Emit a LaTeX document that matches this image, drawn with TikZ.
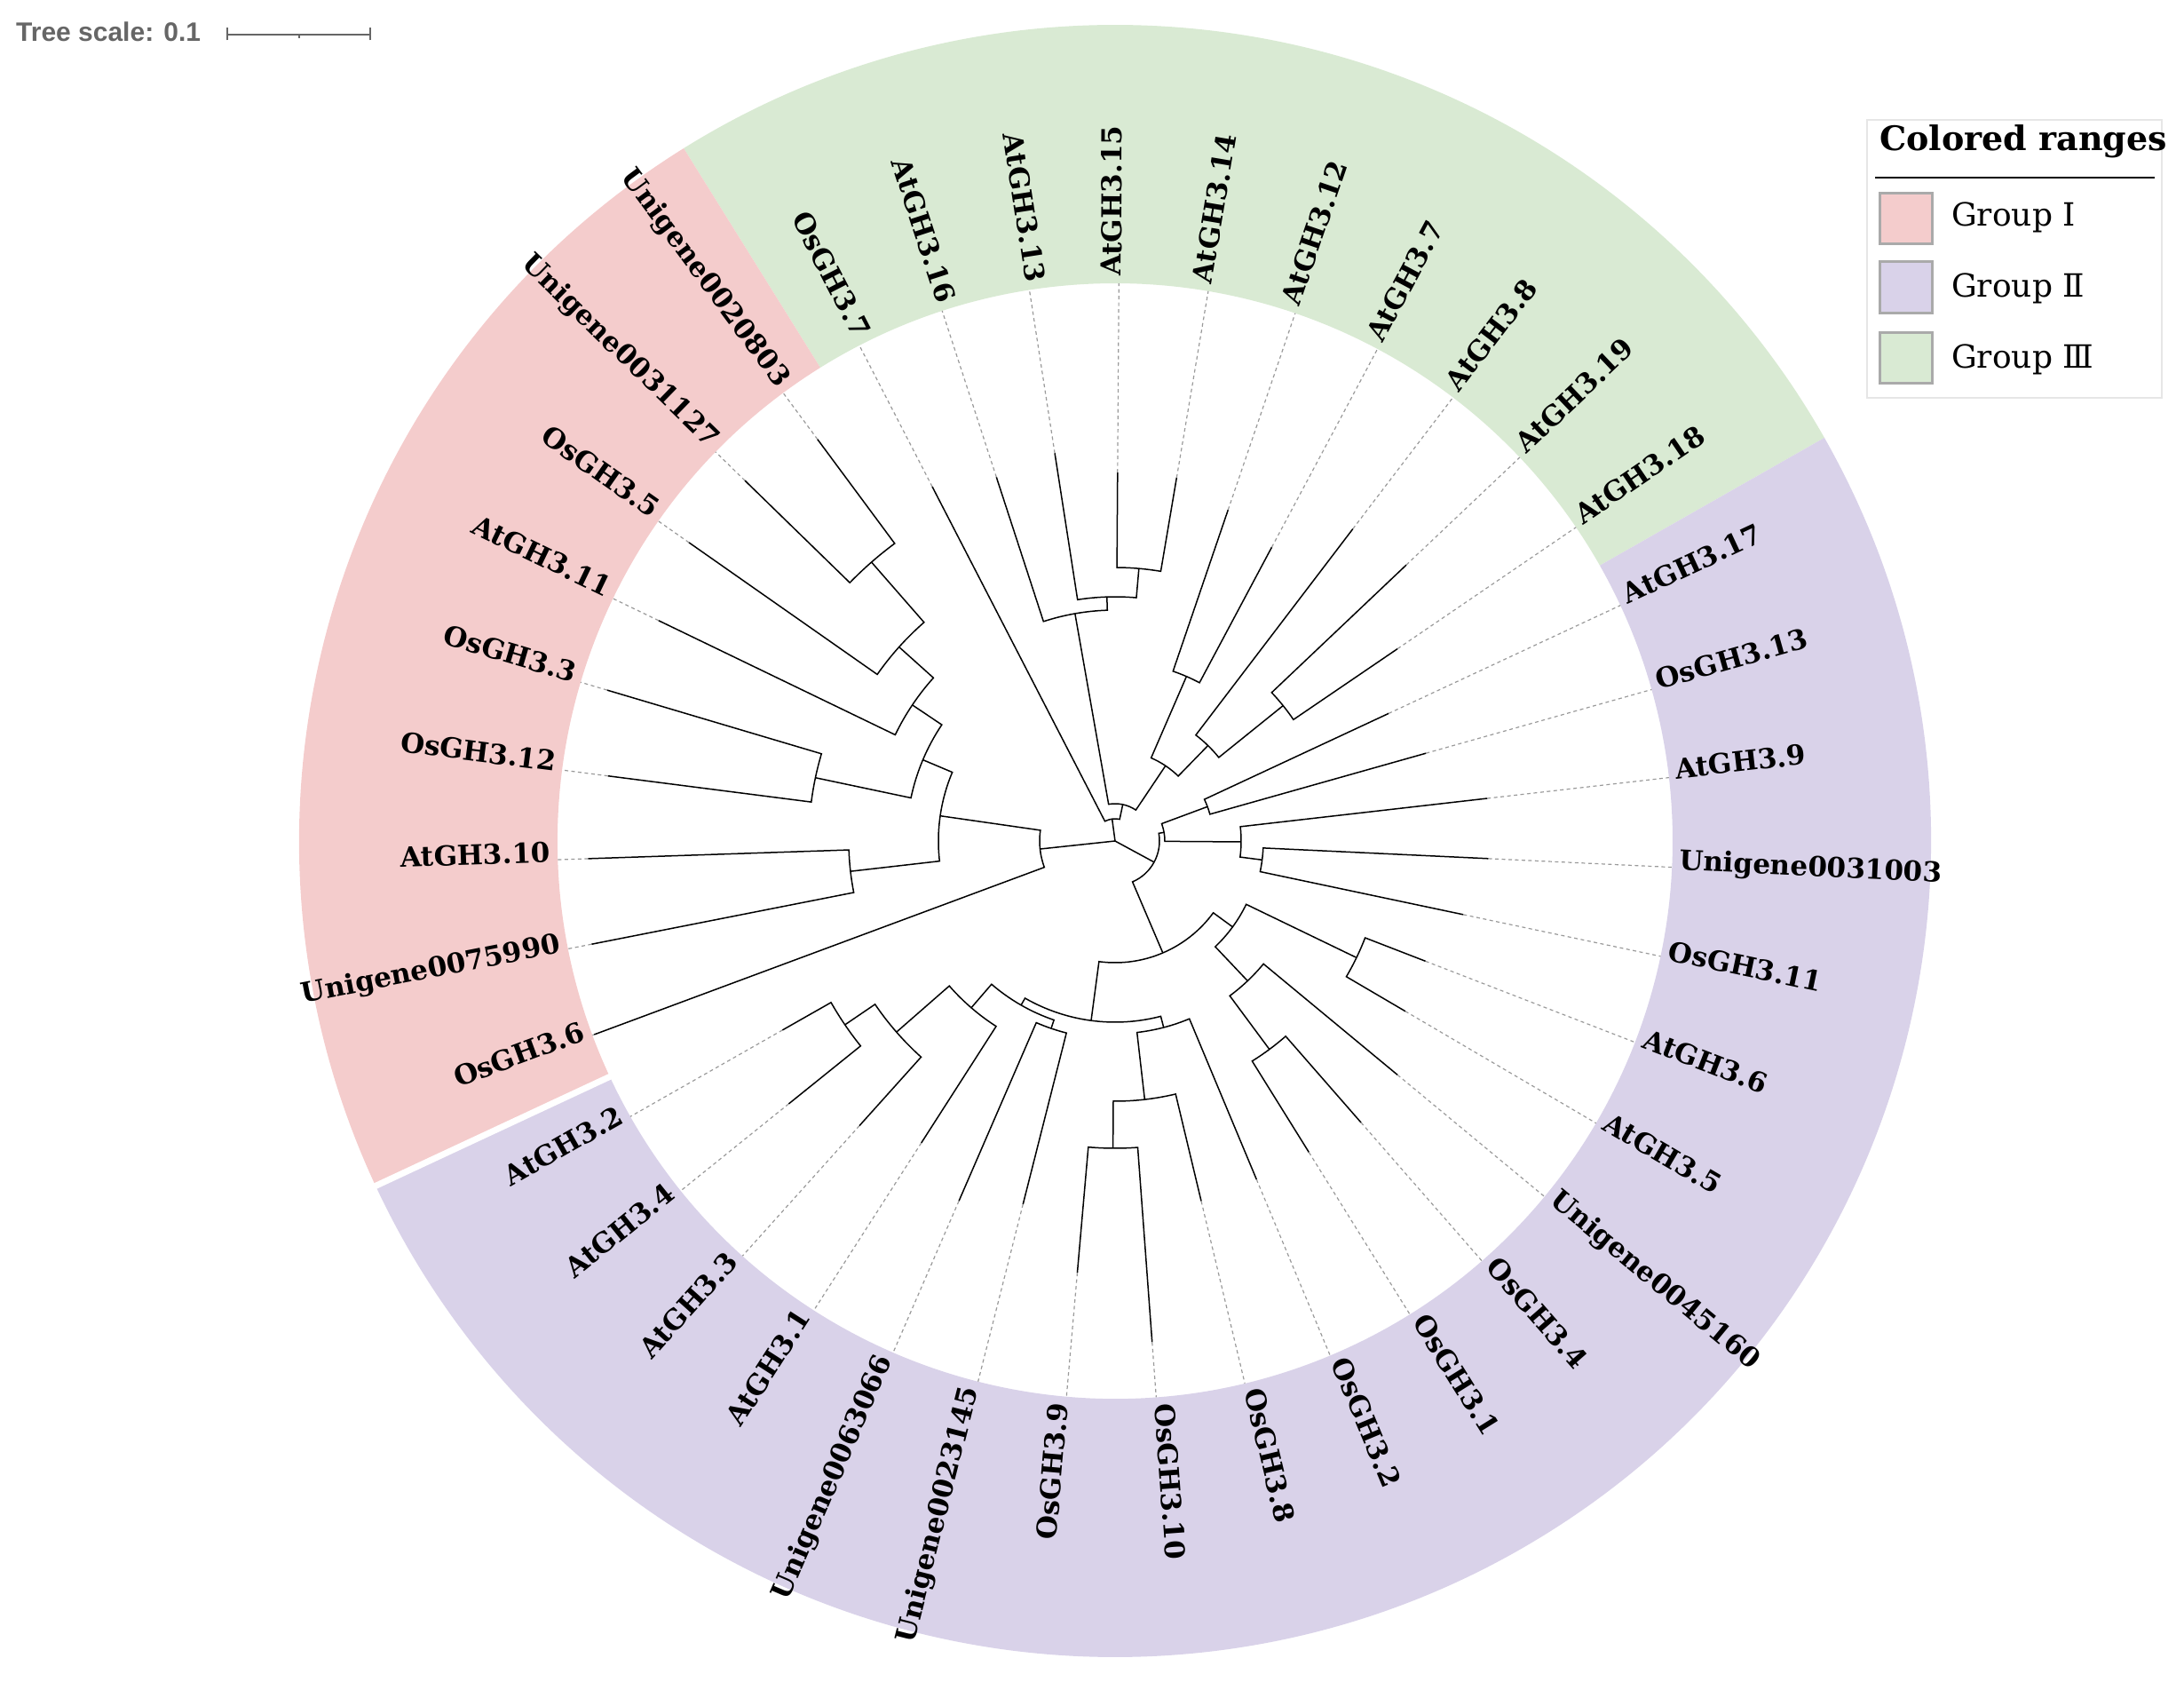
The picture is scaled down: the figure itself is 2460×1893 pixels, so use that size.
\documentclass[tikz,border=0pt]{standalone}
\usepackage{fontspec}
\setmainfont{DejaVu Serif}
\newfontfamily\scalefnt{Liberation Sans}
\definecolor{grpI}{HTML}{F4CCCC}
\definecolor{grpII}{HTML}{D9D2E9}
\definecolor{grpIII}{HTML}{D9EAD3}
\definecolor{dotgray}{HTML}{9A9A9A}
\definecolor{scalegray}{HTML}{666666}
\definecolor{swborder}{HTML}{AAAAAA}
\definecolor{boxborder}{HTML}{E6E6E6}
\tikzset{
  tree/.style={line width=1.5pt, black, line join=miter},
  dots/.style={line width=1.2pt, dotgray, dash pattern=on 4pt off 3.5pt},
  lab/.style={inner sep=0pt, font=\bfseries\fontsize{31}{34}\selectfont},
  swatch/.style={draw=swborder, line width=3pt},
  leg/.style={inner sep=0pt, anchor=base west, font=\fontsize{36}{40}\selectfont},
  scalebar/.style={line width=2pt, scalegray}
}
\newcommand\clade[5]{\draw[tree] (#2:#3) -- (#2:#1) arc[start angle=#2, end angle=#4, radius=#1pt] -- (#4:#5);}
\newcommand\leafR[4]{\draw[dots] (#2:#3) -- (#2:628);
  \node[lab, anchor=mid west, rotate=#2] (#1) at (#2:636) {#4};}
\newcommand\leafL[4]{\draw[dots] (#2:#3) -- (#2:628);
  \node[lab, anchor=mid east, rotate={#2-180}] (#1) at (#2:636) {#4};}
\newcommand\band[3]{\fill[#1] (#2:628) arc[start angle=#2, end angle=#3, radius=628pt] -- (#3:919) arc[start angle=#3, end angle=#2, radius=919pt] -- cycle;}
\begin{document}
\begin{tikzpicture}[x=1pt,y=1pt]
\useasboundingbox (-1256,-946) rectangle (1204,947);
% colored ranges
\band{grpIII}{29.61}{121.92}
\band{grpI}{121.92}{205.0}
\band{grpII}{-155.0}{29.61}
\draw[white, line width=7pt] (205.0:600) -- (205.0:930);
% root
\coordinate (root) at (0,0);
\draw[tree] (186.10:85) -- (root) -- (97.69:25);
\draw[tree] (root) -- (-28.45:50);
% green clade
\clade{25}{117.30}{449}{78.08}{42}
\clade{42}{100.00}{260}{56.15}{102}
\clade{260}{108.07}{431}{91.92}{275}
\clade{275}{98.84}{442}{85.00}{308}
\clade{308}{89.61}{415}{80.38}{415}
\clade{102}{66.54}{202}{45.77}{150}
\clade{202}{71.15}{394}{61.92}{375}
\clade{150}{52.69}{442}{38.85}{243}
\clade{243}{43.46}{452}{34.23}{385}
% purple clade
\clade{50}{9.99}{56}{-66.88}{137}
\clade{56}{20.38}{111}{-0.39}{142}
\clade{111}{24.99}{340}{15.76}{364}
\clade{142}{6.53}{422}{-7.32}{167}
\clade{167}{-2.70}{421}{-11.93}{401}
\clade{137}{-36.16}{164}{-97.60}{204}
\clade{164}{-25.78}{302}{-46.54}{217}
\clade{302}{-21.16}{375}{-30.39}{379}
\clade{217}{-39.62}{413}{-53.46}{292}
\clade{292}{-48.85}{421}{-58.08}{413}
\clade{204}{-75.39}{217}{-119.81}{213}
\clade{217}{-67.31}{413}{-83.46}{293}
\clade{293}{-76.54}{417}{-90.39}{346}
\clade{346}{-85.77}{566}{-95.00}{488}
\clade{213}{-108.85}{223}{-130.78}{248}
\clade{223}{-104.23}{422}{-113.46}{442}
\clade{248}{-122.70}{404}{-138.85}{327}
\clade{327}{-131.93}{431}{-145.78}{368}
\clade{368}{-141.16}{472}{-150.39}{431}
% red clade
\clade{85}{171.82}{199}{200.38}{626}
\clade{199}{157.11}{235}{186.54}{300}
\clade{300}{181.92}{594}{191.15}{601}
\clade{235}{146.15}{275}{168.08}{345}
\clade{345}{163.46}{597}{172.69}{576}
\clade{275}{138.08}{327}{154.23}{571}
\clade{327}{131.15}{417}{145.00}{586}
\clade{417}{126.54}{563}{135.77}{582}
% leaves
\leafL{l0}{117.30}{449}{OsGH3.7}
\leafL{l1}{108.07}{431}{AtGH3.16}
\leafL{l2}{98.84}{442}{AtGH3.13}
\leafR{l3}{89.61}{415}{AtGH3.15}
\leafR{l4}{80.38}{415}{AtGH3.14}
\leafR{l5}{71.15}{394}{AtGH3.12}
\leafR{l6}{61.92}{375}{AtGH3.7}
\leafR{l7}{52.69}{442}{AtGH3.8}
\leafR{l8}{43.46}{452}{AtGH3.19}
\leafR{l9}{34.23}{385}{AtGH3.18}
\leafR{l10}{24.99}{340}{AtGH3.17}
\leafR{l11}{15.76}{364}{OsGH3.13}
\leafR{l12}{6.53}{422}{AtGH3.9}
\leafR{l13}{-2.70}{421}{Unigene0031003}
\leafR{l14}{-11.93}{401}{OsGH3.11}
\leafR{l15}{-21.16}{375}{AtGH3.6}
\leafR{l16}{-30.39}{379}{AtGH3.5}
\leafR{l17}{-39.62}{413}{Unigene0045160}
\leafR{l18}{-48.85}{421}{OsGH3.4}
\leafR{l19}{-58.08}{413}{OsGH3.1}
\leafR{l20}{-67.31}{413}{OsGH3.2}
\leafR{l21}{-76.54}{417}{OsGH3.8}
\leafR{l22}{-85.77}{566}{OsGH3.10}
\leafL{l23}{-95.00}{488}{OsGH3.9}
\leafL{l24}{-104.23}{422}{Unigene0023145}
\leafL{l25}{-113.46}{442}{Unigene0063066}
\leafL{l26}{-122.70}{404}{AtGH3.1}
\leafL{l27}{-131.93}{431}{AtGH3.3}
\leafL{l28}{-141.16}{472}{AtGH3.4}
\leafL{l29}{-150.39}{431}{AtGH3.2}
\leafL{l30}{200.38}{626}{OsGH3.6}
\leafL{l31}{191.15}{601}{Unigene0075990}
\leafL{l32}{181.92}{594}{AtGH3.10}
\leafL{l33}{172.69}{576}{OsGH3.12}
\leafL{l34}{163.46}{597}{OsGH3.3}
\leafL{l35}{154.23}{571}{AtGH3.11}
\leafL{l36}{145.00}{586}{OsGH3.5}
\leafL{l37}{135.77}{582}{Unigene0031127}
\leafL{l38}{126.54}{563}{Unigene0020803}
% legend
\draw[boxborder, line width=1.2pt] (847,499) rectangle (1179,812);
\node[inner sep=0pt, anchor=base west, font=\bfseries\fontsize{38}{42}\selectfont] (legtitle) at (861,777) {Colored ranges};
\draw[line width=2pt] (856,747) -- (1171,747);
\draw[swatch, fill=grpI] (861,672) rectangle (920,729);
\draw[swatch, fill=grpII] (861,594) rectangle (920,652);
\draw[swatch, fill=grpIII] (861,515) rectangle (920,572);
\node[leg] (g1) at (942,692) {Group Ⅰ};
\node[leg] (g2) at (942,612) {Group Ⅱ};
\node[leg] (g3) at (942,532) {Group Ⅲ};
% tree scale
\node[inner sep=0pt, anchor=base west, text=scalegray, font=\scalefnt\bfseries\fontsize{30}{32}\selectfont] (ts) at (-1238,900) {Tree scale: 0.1};
\draw[scalebar] (-1000,907.7) -- (-839,907.7);
\draw[scalebar] (-1000,901.5) -- (-1000,916.3);
\draw[scalebar] (-839,901.5) -- (-839,916.3);
\draw[scalebar] (-919.3,907.7) -- (-919.3,903.5);
\end{tikzpicture}
\end{document}
